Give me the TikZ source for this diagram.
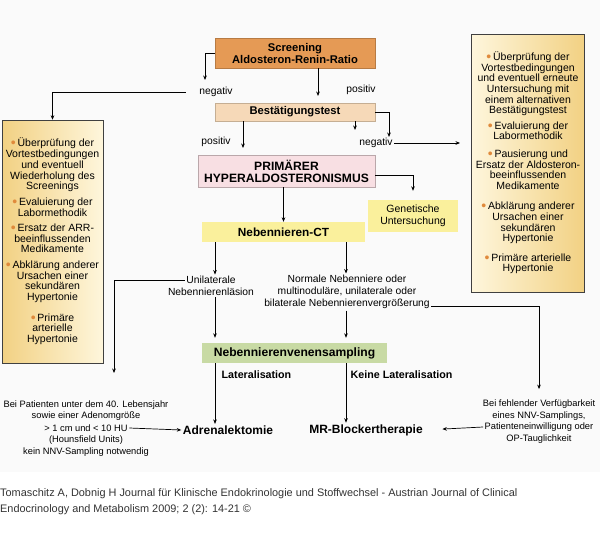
\documentclass[tikz,border=0pt]{standalone}
\usepackage{fontspec}
\setmainfont{Liberation Sans}
\usetikzlibrary{arrows.meta}

\definecolor{scrorange}{HTML}{E59A55}
\definecolor{confpeach}{HTML}{F6D9B8}
\definecolor{phapink}{HTML}{F8DFE3}
\definecolor{ctyellow}{HTML}{FAF09C}
\definecolor{avsgreen}{HTML}{C8DAA4}
\definecolor{notegold}{HTML}{F2D183}
\definecolor{notelight}{HTML}{FEF6DC}
\definecolor{bulorange}{HTML}{E08A3C}
\definecolor{captiongray}{HTML}{333333}

\newcommand{\notebul}{\raisebox{-0.8pt}{\textcolor{bulorange}{\fontsize{14}{0}\selectfont\textbullet}}\,}

\tikzset{
    arr/.style={-{Stealth[length=4.5pt,width=3.6pt]}, line width=0.7pt},
    box/.style={inner sep=0pt, align=center, font=\bfseries\fontsize{11.2}{12}\selectfont},
    lbl/.style={inner sep=1.5pt, align=center, font=\fontsize{10.3}{12}\selectfont},
    smalllbl/.style={inner sep=1.5pt, align=center, font=\fontsize{9.3}{11.7}\selectfont},
    blbl/.style={inner sep=1.5pt, font=\bfseries\fontsize{12}{14}\selectfont},
    notes/.style={draw=black!75, line width=0.5pt, align=center, inner sep=0pt},
}

\begin{document}
\begin{tikzpicture}[x=1pt,y=-1pt]
    \useasboundingbox (0,0) rectangle (600,541);
    \fill[black!2] (0,0) rectangle (600,472);

    \node[box, fill=scrorange, draw=scrorange!80!black, minimum width=160, minimum height=30] (screen) at (295,53) {Screening\\Aldosteron-Renin-Ratio};
    \node[box, fill=confpeach, draw=confpeach!80!black, minimum width=160, minimum height=18] (confirm) at (295,112) {Bestätigungstest};
    \node[box, fill=phapink, draw=phapink!75!black, minimum width=177, minimum height=32, font=\bfseries\fontsize{12.1}{12}\selectfont] (pha) at (286.5,171) {PRIMÄRER\\HYPERALDOSTERONISMUS};
    \node[box, fill=ctyellow, minimum width=90, minimum height=32, font=\fontsize{10.5}{12.5}\selectfont] (genet) at (413,216) {Genetische\\Untersuchung};
    \node[box, fill=ctyellow, minimum width=163, minimum height=20, font=\bfseries\fontsize{11.8}{12}\selectfont] (ct) at (283.5,232) {Nebennieren-CT};
    \node[box, fill=avsgreen, minimum width=185, minimum height=20, font=\bfseries\fontsize{12.1}{12}\selectfont] (avs) at (294.5,353) {Nebennierenvenensampling};

    \node[notes, left color=notegold, right color=notelight, minimum width=101, minimum height=243, font=\fontsize{10.5}{10.7}\selectfont] (leftbox) at (52.5,241.5) {%
        \notebul Überprüfung der\\Vortestbedingungen\\und eventuell\\Wiederholung des\\Screenings\\[5pt]
        \notebul Evaluierung der\\Labormethodik\\[4.5pt]
        \notebul Ersatz der ARR-\\beeinflussenden\\Medikamente\\[5pt]
        \notebul Abklärung anderer\\Ursachen einer\\sekundären\\Hypertonie\\[10pt]
        \notebul Primäre\\arterielle\\Hypertonie};
    \node[notes, left color=notelight, right color=notegold, minimum width=113, minimum height=258, font=\fontsize{10.5}{10.6}\selectfont] (rightbox) at (528,163) {%
        \notebul Überprüfung der\\Vortestbedingungen\\und eventuell erneute\\Untersuchung mit\\einem alternativen\\Bestätigungstest\\[5pt]
        \notebul Evaluierung der\\Labormethodik\\[7pt]
        \notebul Pausierung und\\Ersatz der Aldosteron-\\beeinflussenden\\Medikamente\\[10pt]
        \notebul Abklärung anderer\\Ursachen einer\\sekundären\\Hypertonie\\[9pt]
        \notebul Primäre arterielle\\Hypertonie};

    \node[lbl] (neg1) at (216,92) {negativ};
    \node[lbl] (pos1) at (361,90) {positiv};
    \node[lbl] (pos2) at (216,142) {positiv};
    \node[lbl] (neg2) at (376,143) {negativ};
    \node[lbl] (unil1) at (211,280) {Unilaterale};
    \node[lbl] (unil2) at (211,292) {Nebennierenläsion};
    \node[lbl] (normal) at (347,292) {Normale Nebenniere oder\\multinoduläre, unilaterale oder\\bilaterale Nebennierenvergrößerung};
    \node[blbl, anchor=west, font=\bfseries\fontsize{10.7}{12}\selectfont] (lat) at (220,375) {Lateralisation};
    \node[blbl, anchor=west, font=\bfseries\fontsize{10.7}{12}\selectfont] (nolat) at (349,375) {Keine Lateralisation};
    \node[blbl] (adx) at (228,430) {Adrenalektomie};
    \node[blbl] (mrb) at (366,430) {MR-Blockertherapie};
    \node[smalllbl] (young1) at (86,410.5) {Bei Patienten unter dem 40. Lebensjahr\\sowie einer Adenomgröße};
    \node[smalllbl] (young3) at (86,428) {> 1 cm und < 10 HU};
    \node[smalllbl] (young4) at (86,446) {(Hounsfield Units)\\kein NNV-Sampling notwendig};
    \node[smalllbl] (nonnv1) at (539,410) {Bei fehlender Verfügbarkeit\\eines NNV-Samplings,};
    \node[smalllbl] (nonnv3) at (539,427) {Patienteneinwilligung oder};
    \node[smalllbl] (nonnv4) at (539,439) {OP-Tauglichkeit};
    \node[anchor=north west, align=left, inner sep=0pt, text=captiongray, font=\fontsize{10.9}{16.7}\selectfont] (caption) at (0,488) {Tomaschitz A, Dobnig H Journal für Klinische Endokrinologie und Stoffwechsel - Austrian Journal of Clinical\\Endocrinology and Metabolism 2009; 2 (2): 14-21 ©};

    \coordinate (negL) at (205,80);
    \coordinate (posA) at (318,96);
    \coordinate (smallA) at (355,130);
    \coordinate (posB) at (243,148);
    \coordinate (negR) at (389,137);
    \coordinate (negRend) at (460,143);
    \coordinate (colA) at (215,0);
    \coordinate (colB) at (346,0);
    \coordinate (unilend) at (114,373);

    \draw[arr] (screen.west) -| (negL);
    \draw[arr] (screen.south -| posA) -- (posA);
    \draw[arr, shorten <=12pt] (neg1.west) -| (leftbox.north);
    \draw[arr] (confirm.east) -| (negR);
    \draw[arr] (confirm.south -| smallA) -- (smallA);
    \draw[arr] (confirm.south -| posB) -- (posB);
    \draw[arr] (neg2.east) -- (negRend);
    \draw[arr, shorten >=9pt] ([yshift=-4pt]pha.east) -| (genet.north);
    \draw[arr] (pha.south -| ct.north) -- (ct.north);
    \draw[arr] (ct.south -| colA) -- (unil1.north -| colA);
    \draw[arr] (ct.south -| colB) -- (normal.north -| colB);
    \draw[arr] (unil1.west) -| (unilend);
    \draw[arr, shorten >=9pt] ([yshift=4pt]normal.south east) -| (nonnv1.north);
    \draw[arr, shorten >=5pt] (unil2.south -| colA) -- (avs.north -| colA);
    \draw[arr, shorten >=5pt] (normal.south -| colB) -- (avs.north -| colB);
    \draw[arr] (avs.south -| colA) -- (adx.north -| colA);
    \draw[arr] (avs.south -| colB) -- (mrb.north -| colB);
    \draw[arr] (young3.east) -- (adx.west);
    \draw[arr, shorten >=18pt] (nonnv3.west) -- (mrb.east);
\end{tikzpicture}
\end{document}
